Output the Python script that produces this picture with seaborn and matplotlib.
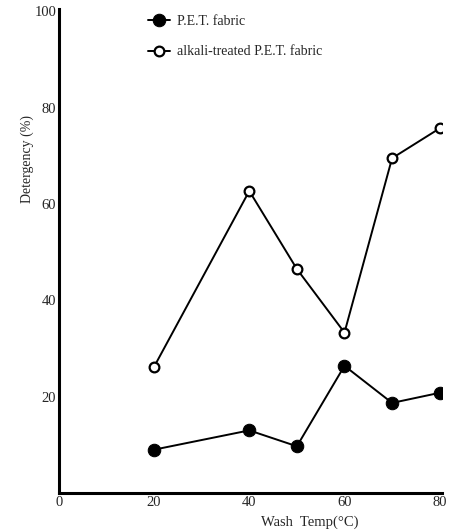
import matplotlib
matplotlib.use("Agg")
import matplotlib.pyplot as plt
import seaborn as sns
import pandas as pd

temps = [20, 40, 50, 60, 70, 80]
pet = [9.0, 13.0, 9.7, 26.4, 18.7, 20.8]
alkali = [26.2, 62.7, 46.5, 33.3, 69.5, 75.7]
labels = ["P.E.T. fabric", "alkali-treated P.E.T. fabric"]
xticks = [0, 20, 40, 60, 80]
yticks = [20, 40, 60, 80, 100]

sns.set_style("white")
plt.rcParams['font.family'] = ['Liberation Serif', 'DejaVu Serif']

fig = plt.figure(figsize=(4.6, 5.32), dpi=100)
ax = fig.add_axes([0.128, 0.0733, 0.833, 0.910])

df1 = pd.DataFrame({"t": temps, "v": pet})
df2 = pd.DataFrame({"t": temps, "v": alkali})
sns.lineplot(data=df1, x="t", y="v", ax=ax, color="black", lw=1.4,
             marker="o", markersize=9, markerfacecolor="black",
             markeredgecolor="black", label=labels[0])
sns.lineplot(data=df2, x="t", y="v", ax=ax, color="black", lw=1.4,
             marker="o", markersize=7, markerfacecolor="white",
             markeredgecolor="black", markeredgewidth=1.6, label=labels[1])

ax.set_xlim(0, 80.5)
ax.set_ylim(0, 100.5)
ax.set_xticks(xticks)
ax.set_yticks(yticks)
ax.set_xticklabels([str(v) for v in xticks], fontsize=10.5)
ax.set_yticklabels([str(v) for v in yticks], fontsize=10.5)
ax.tick_params(direction="in", length=6, width=2, pad=2, color="black")
for s in ["top", "right"]:
    ax.spines[s].set_visible(False)
for s in ["left", "bottom"]:
    ax.spines[s].set_linewidth(2.2)
    ax.spines[s].set_color("black")

ax.set_xlabel("Wash  Temp(°C)", fontsize=10.5)
ax.set_ylabel("Detergency (%)", fontsize=10)
ax.xaxis.set_label_coords(0.655, -0.047)
ax.yaxis.set_label_coords(-0.065, 0.69)

leg = ax.legend(loc="upper left", bbox_to_anchor=(0.2, 1.013), frameon=False,
                fontsize=10, handlelength=1.6, labelspacing=1.25, handletextpad=0.5)

fig.savefig("out.png", dpi=100)
